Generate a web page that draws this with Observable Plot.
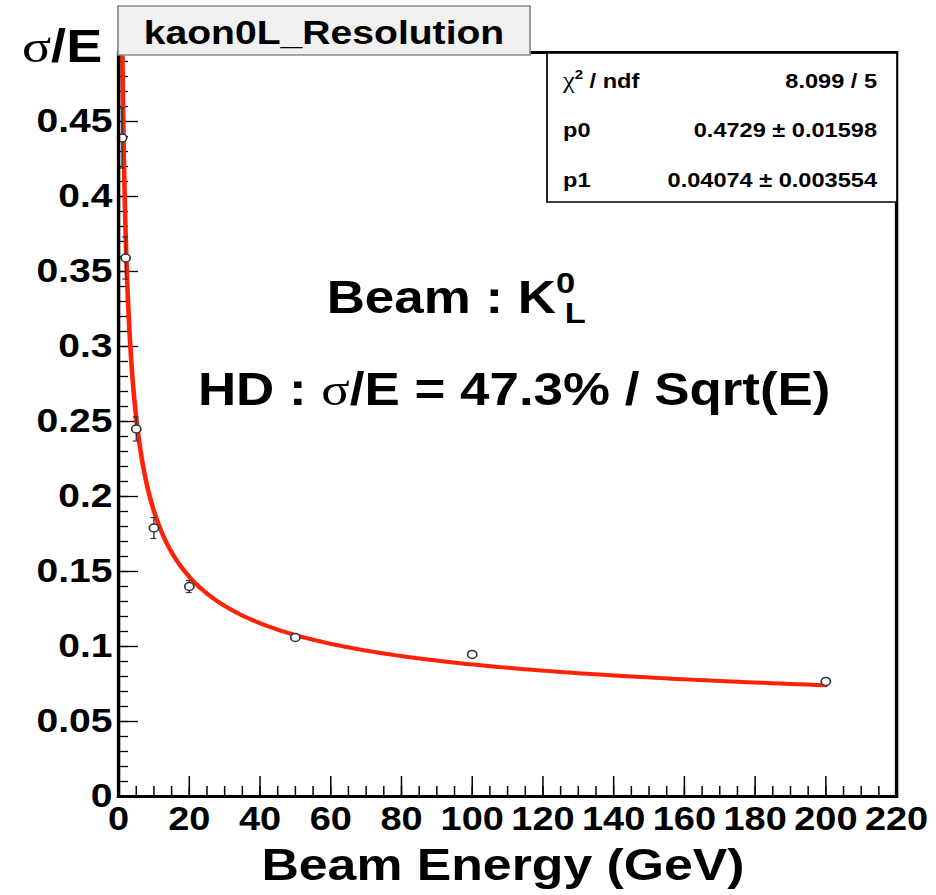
<!DOCTYPE html>
<html>
<head>
<meta charset="utf-8">
<script src="https://cdn.jsdelivr.net/npm/d3@7"></script>
<script src="https://cdn.jsdelivr.net/npm/@observablehq/plot@0.6"></script>
<style>
  html, body { margin: 0; padding: 0; background: #fff; }
  #chart svg { display: block; }
</style>
</head>
<body>
<div id="chart"></div>
<script>
// Measured K0L energy resolution vs. beam energy
const energies = [1, 2, 5, 10, 20, 50, 100, 200];
const resolution = [0.439, 0.359, 0.245, 0.179, 0.140, 0.106, 0.0947, 0.0767];
const resolutionErr = [0.020, 0.014, 0.008, 0.007, 0.004, 0.002, 0.0015, 0.0012];

// Fit: sigma/E = p0 / sqrt(E) + p1
const fitP0 = 0.4729, fitP0Err = 0.01598;
const fitP1 = 0.04074, fitP1Err = 0.003554;
const fitChi2 = 8.099, fitNdf = 5;
const fitRange = [1, 200];

// Axis ticks
const xMajorTicks = [0, 20, 40, 60, 80, 100, 120, 140, 160, 180, 200, 220];
const xMinorTicks = d3.range(0, 221, 5);
const yMajorTicks = [0, 0.05, 0.1, 0.15, 0.2, 0.25, 0.3, 0.35, 0.4, 0.45];
const yMinorTicks = d3.range(0, 50).map(i => i / 100);

const histTitle = "kaon0L_Resolution";
const xTitle = "Beam Energy (GeV)";

// Canvas is drawn narrower, then widened to the page (wide ROOT-style glyphs)
const W = 936, H = 895, S = 1.15;
const FONT = "'Liberation Sans', Arial, Helvetica, sans-serif";
const SERIF = "'Liberation Serif', 'DejaVu Serif', serif";

const points = energies.map((E, i) => ({
  E, v: resolution[i], lo: resolution[i] - resolutionErr[i], hi: resolution[i] + resolutionErr[i]
}));

// fit curve sampled on a log grid over the fit range
const nSamples = 400;
const curve = d3.range(nSamples + 1).map(i => {
  const E = fitRange[0] * Math.pow(fitRange[1] / fitRange[0], i / nSamples);
  return {E, v: fitP0 / Math.sqrt(E) + fitP1};
});

const fmtY = d => String(+d.toFixed(2));

const plot = Plot.plot({
  width: W / S,
  height: H,
  marginLeft: 118 / S,
  marginRight: 40 / S,
  marginTop: 52,
  marginBottom: 99,
  x: {domain: [0, 220]},
  y: {domain: [0, 0.496]},
  style: {fontFamily: FONT, color: "#000", background: "#fff"},
  marks: [
    // inward ticks, ROOT style
    Plot.axisX({ticks: xMinorTicks, tickSize: -10, text: null, label: null, strokeWidth: 1.3}),
    Plot.axisX({ticks: xMajorTicks, tickSize: -20, text: null, label: null, strokeWidth: 1.3}),
    Plot.axisX({ticks: xMajorTicks, tickSize: 0, tickPadding: 10, tickFormat: d => String(d),
                label: null, fontSize: 33, fontWeight: "bold"}),
    Plot.axisY({ticks: yMinorTicks, tickSize: -10 / S, text: null, label: null, strokeWidth: 1.3}),
    Plot.axisY({ticks: yMajorTicks, tickSize: -20 / S, text: null, label: null, strokeWidth: 1.3}),
    Plot.axisY({ticks: yMajorTicks, tickSize: 0, tickPadding: 6 / S, tickFormat: fmtY,
                label: null, fontSize: 34, fontWeight: "bold"}),
    // fit function
    Plot.line(curve, {x: "E", y: "v", stroke: "#ff2208", strokeWidth: 4, clip: true}),
    // error bars
    Plot.ruleX(points, {x: "E", y1: "lo", y2: "hi", stroke: "#333", strokeWidth: 1.2}),
    Plot.ruleY(points, {y: "lo", x1: "E", x2: "E", insetLeft: -2.5, insetRight: -2.5, stroke: "#333", strokeWidth: 1.2}),
    Plot.ruleY(points, {y: "hi", x1: "E", x2: "E", insetLeft: -2.5, insetRight: -2.5, stroke: "#333", strokeWidth: 1.2}),
    Plot.dot(points, {x: "E", y: "v", r: 4, stroke: "#333", fill: "#fff", strokeWidth: 1.5}),
    Plot.frame({stroke: "#000", strokeWidth: 3})
  ]
});

const xs = plot.scale("x"), ys = plot.scale("y");
const svg = d3.select(plot);

function addText(parent, x, y, parts, opts = {}) {
  const t = parent.append("text")
    .attr("x", x).attr("y", y)
    .attr("font-family", FONT)
    .attr("font-weight", opts.weight || "bold")
    .attr("font-size", opts.size)
    .attr("text-anchor", opts.anchor || "start")
    .attr("fill", "#000");
  for (const p of parts) {
    const s = t.append("tspan").text(p.text);
    if (p.serif) s.attr("font-family", SERIF).attr("font-weight", "normal");
    if (p.size) s.attr("font-size", p.size);
    if (p.dy) s.attr("dy", p.dy);
    if (p.dx) s.attr("dx", p.dx);
  }
  return t;
}

// y-axis title
addText(svg, 22 / S, 62, [{text: "σ", serif: true}, {text: "/E"}], {size: 47});

// x-axis title
addText(svg, ((118 + 888) / 2) / S, 880, [{text: xTitle}], {size: 45, anchor: "middle"});

// histogram title box
const tb = svg.append("g");
tb.append("rect")
  .attr("x", 118 / S).attr("y", 6).attr("width", (530 - 118) / S).attr("height", 49)
  .attr("fill", "#f0f0f0").attr("stroke", "#8a8a8a").attr("stroke-width", 1.5);
addText(tb, ((118 + 530) / 2) / S, 44, [{text: histTitle}], {size: 34, anchor: "middle"});

// fit statistics box
const sb = svg.append("g");
sb.append("rect")
  .attr("x", 547 / S).attr("y", 53).attr("width", (897 - 547) / S).attr("height", 149)
  .attr("fill", "#fff").attr("stroke", "#000").attr("stroke-width", 1.5);
const rowY = [88, 137, 187];
const lx = 563 / S, rx = 877 / S;
const sz = 20.5;
addText(sb, lx, rowY[0], [{text: "χ", serif: true, size: 23}, {text: "2", size: 13, dy: -9}, {text: " / ndf", dy: 9}], {size: sz});
addText(sb, rx, rowY[0], [{text: `${fitChi2} / ${fitNdf}`}], {size: sz, anchor: "end"});
addText(sb, lx, rowY[1], [{text: "p0"}], {size: sz});
addText(sb, rx, rowY[1], [{text: `${fitP0} ± ${fitP0Err}`}], {size: sz, anchor: "end"});
addText(sb, lx, rowY[2], [{text: "p1"}], {size: sz});
addText(sb, rx, rowY[2], [{text: `${fitP1} ± ${fitP1Err}`}], {size: sz, anchor: "end"});

// annotations
addText(svg, xs.apply(59), ys.apply(0.322),
  [{text: "Beam : K"}, {text: "0", size: 30, dy: -20}, {text: "L", size: 30, dy: 30, dx: -9}], {size: 46});
addText(svg, xs.apply(22.6), ys.apply(0.2607),
  [{text: "HD : "}, {text: "σ", serif: true}, {text: `/E = ${(fitP0 * 100).toFixed(1)}% / Sqrt(E)`}], {size: 46});

// widen to page size
plot.setAttribute("width", W);
plot.setAttribute("height", H);
plot.setAttribute("preserveAspectRatio", "none");
plot.style.width = W + "px";
plot.style.height = H + "px";
plot.style.maxWidth = "none";

document.getElementById("chart").appendChild(plot);
</script>
</body>
</html>
